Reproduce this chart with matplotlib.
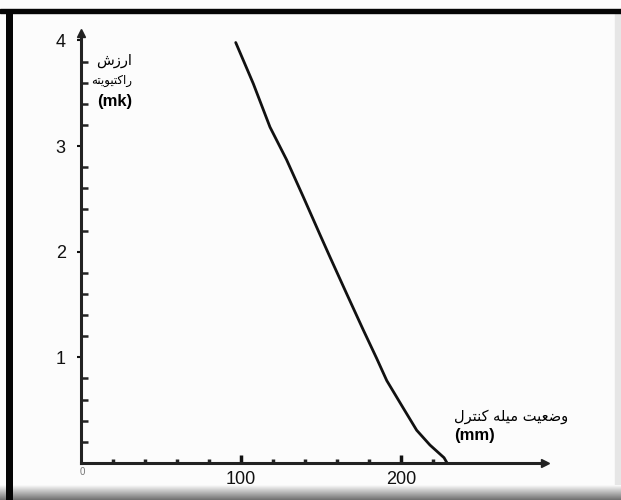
import numpy as np
import matplotlib.pyplot as plt
from matplotlib.patches import Rectangle
from matplotlib.ticker import FixedLocator

# control rod position (mm) vs reactivity worth (mk)
pos = [96.7, 107.7, 118.1, 128.5, 138.9, 149.4, 155.6, 166.1, 176.4, 184.8,
       191.1, 201.4, 209.8, 218.1, 226.9, 228.8]
worth = [3.98, 3.59, 3.18, 2.87, 2.52, 2.16, 1.95, 1.60, 1.26, 0.99,
         0.78, 0.52, 0.31, 0.17, 0.05, 0.0]

xmajor = [100, 200]
xminor = [20, 40, 60, 80, 120, 140, 160, 180, 220]
ymajor = [1, 2, 3, 4]
yminor = [0.2, 0.4, 0.6, 0.8, 1.2, 1.4, 1.6, 1.8, 2.2, 2.4, 2.6, 2.8,
          3.2, 3.4, 3.6, 3.8]

ylab = ['ارزش', 'راکتیویته']
xlab = 'وضعیت میله کنترل'

# minimal persian shaping (matplotlib draws no joined forms itself)
FORMS = {
    'ا': ('\uFE8D', '\uFE8E', None, None),
    'ر': ('\uFEAD', '\uFEAE', None, None),
    'ز': ('\uFEAF', '\uFEB0', None, None),
    'و': ('\uFEED', '\uFEEE', None, None),
    'ش': ('\uFEB5', '\uFEB6', '\uFEB7', '\uFEB8'),
    'ت': ('\uFE95', '\uFE96', '\uFE97', '\uFE98'),
    'ه': ('\uFEE9', '\uFEEA', '\uFEEB', '\uFEEC'),
    'ض': ('\uFEBD', '\uFEBE', '\uFEBF', '\uFEC0'),
    'ع': ('\uFEC9', '\uFECA', '\uFECB', '\uFECC'),
    'م': ('\uFEE1', '\uFEE2', '\uFEE3', '\uFEE4'),
    'ل': ('\uFEDD', '\uFEDE', '\uFEDF', '\uFEE0'),
    'ن': ('\uFEE5', '\uFEE6', '\uFEE7', '\uFEE8'),
    'ک': ('\uFB8E', '\uFB8F', '\uFB90', '\uFB91'),
    'ی': ('\uFBFC', '\uFBFD', '\uFBFE', '\uFBFF'),
}


def shape(s):
    out = []
    for i, c in enumerate(s):
        if c not in FORMS:
            out.append(c)
            continue
        prv = s[i - 1] if i > 0 else ''
        nxt = s[i + 1] if i + 1 < len(s) else ''
        join_prev = prv in FORMS and FORMS[prv][2] is not None
        join_next = nxt in FORMS and FORMS[c][2] is not None
        f = FORMS[c]
        if join_prev and join_next:
            out.append(f[3])
        elif join_prev:
            out.append(f[1])
        elif join_next:
            out.append(f[2])
        else:
            out.append(f[0])
    return ''.join(out)[::-1]


plt.rcParams['font.family'] = ['Liberation Sans', 'DejaVu Sans']

fig = plt.figure(figsize=(6.21, 5.0), dpi=100, facecolor='#fcfcfc')
ax = fig.add_axes([81 / 621, 37 / 500, 464 / 621, 430 / 500])
ax.set_facecolor('none')

ax.plot(pos, worth, color='#111111', lw=2.0, solid_capstyle='round',
        solid_joinstyle='round')

ax.set_xlim(0, 290)
ax.set_ylim(0, 4.07)
for s in ['top', 'right']:
    ax.spines[s].set_visible(False)
for s in ['left', 'bottom']:
    ax.spines[s].set_linewidth(2.2)
    ax.spines[s].set_color('#222222')
ax.plot(1, 0, '>', color='#222222', ms=6, transform=ax.transAxes, clip_on=False)
ax.plot(0, 1, '^', color='#222222', ms=6, transform=ax.transAxes, clip_on=False)

ax.xaxis.set_major_locator(FixedLocator(xmajor))
ax.xaxis.set_minor_locator(FixedLocator(xminor))
ax.yaxis.set_major_locator(FixedLocator(ymajor))
ax.yaxis.set_minor_locator(FixedLocator(yminor))
ax.tick_params(axis='x', which='major', direction='in', length=6, width=2.5,
               labelsize=13, pad=6, colors='#111111')
ax.tick_params(axis='x', which='minor', direction='in', length=3, width=2.5,
               colors='#222222')
ax.tick_params(axis='y', which='major', direction='out', length=3, width=1.5,
               labelsize=13, pad=8, colors='#111111')
ax.tick_params(axis='y', which='minor', direction='in', length=5, width=1.8,
               colors='#222222')

ax.text(1, -0.04, '0', fontsize=7, color='#777777', ha='center', va='top')

ax.text(32, 3.81, shape(ylab[0]), fontsize=10.5, ha='right', va='center',
        family=['DejaVu Sans'])
ax.text(32, 3.62, shape(ylab[1]), fontsize=8.5, ha='right', va='center',
        family=['DejaVu Sans'])
ax.text(10, 3.42, '(mk)', fontsize=12, fontweight='bold', ha='left', va='center')

ax.text(233, 0.44, shape(xlab), fontsize=10.5, ha='left', va='center',
        family=['DejaVu Sans'])
ax.text(233, 0.26, '(mm)', fontsize=12, fontweight='bold', ha='left', va='center')

# scanned frame: black top and left bars, grey shadow bottom and right
fig.patches.append(Rectangle((0, 1 - 13 / 500), 1, 4 / 500, transform=fig.transFigure,
                             color='#050505', zorder=5))
fig.patches.append(Rectangle((615 / 621, 0), 6 / 621, 1 - 13 / 500,
                             transform=fig.transFigure, color='#e6e6e6', zorder=4))
shade = np.linspace(0.97, 0.45, 15)
for k, g in enumerate(shade):
    y0 = (14 - k) / 500
    for x0, w in [(0, 6 / 621), (13 / 621, 1 - 13 / 621)]:
        fig.patches.append(Rectangle((x0, y0), w, 1 / 500, transform=fig.transFigure,
                                     color=str(g), lw=0, zorder=6))
fig.patches.append(Rectangle((6 / 621, 0), 7 / 621, 1 - 9 / 500, transform=fig.transFigure,
                             color='#050505', lw=0, zorder=10))

fig.savefig('out.png', dpi=100, facecolor=fig.get_facecolor())
